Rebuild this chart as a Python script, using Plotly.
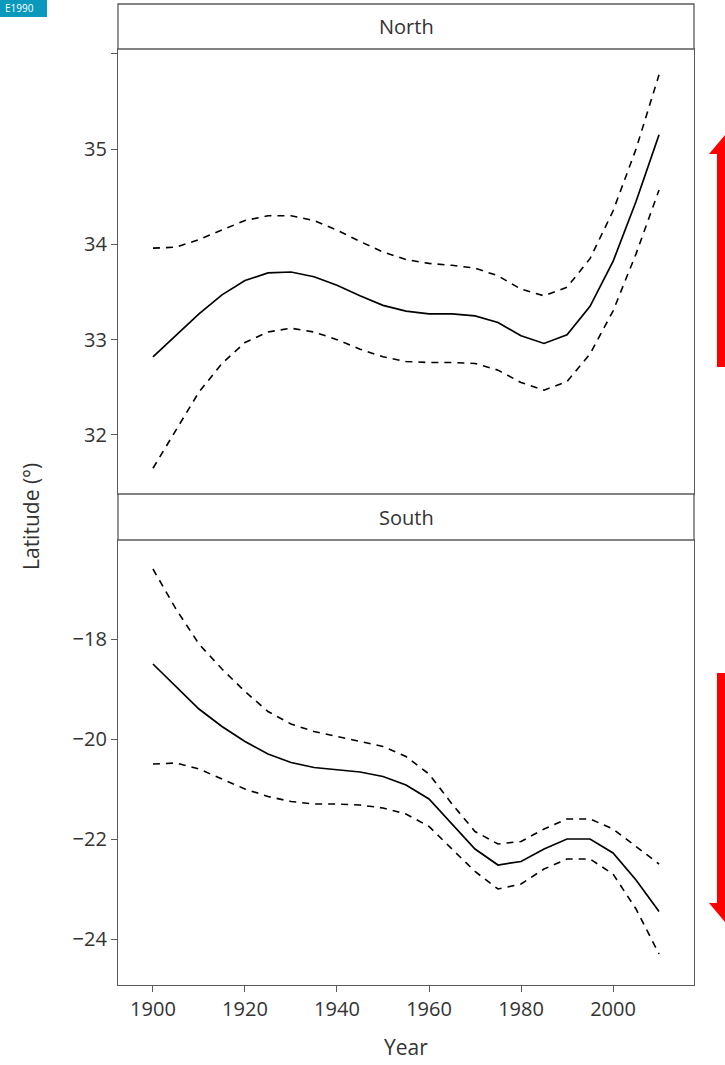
import plotly.graph_objects as go

years = [1900, 1905, 1910, 1915, 1920, 1925, 1930, 1935, 1940, 1945, 1950, 1955,
         1960, 1965, 1970, 1975, 1980, 1985, 1990, 1995, 2000, 2005, 2010]

north_fit = [32.82, 33.05, 33.27, 33.47, 33.62, 33.70, 33.71, 33.66, 33.57, 33.46, 33.36, 33.30,
             33.27, 33.27, 33.25, 33.18, 33.04, 32.96, 33.05, 33.35, 33.82, 34.45, 35.15]
north_upper = [33.96, 33.97, 34.05, 34.15, 34.25, 34.30, 34.30, 34.25, 34.15, 34.03, 33.92, 33.84,
               33.80, 33.78, 33.75, 33.67, 33.53, 33.46, 33.55, 33.85, 34.35, 35.00, 35.78]
north_lower = [31.65, 32.05, 32.45, 32.75, 32.97, 33.08, 33.12, 33.08, 33.00, 32.90, 32.82, 32.77,
               32.76, 32.76, 32.75, 32.68, 32.55, 32.47, 32.56, 32.85, 33.30, 33.90, 34.57]

south_fit = [-18.50, -18.95, -19.40, -19.75, -20.05, -20.30, -20.47, -20.57, -20.62, -20.66, -20.75, -20.92,
             -21.20, -21.70, -22.20, -22.52, -22.45, -22.20, -22.00, -22.00, -22.28, -22.82, -23.45]
south_upper = [-16.60, -17.40, -18.10, -18.60, -19.05, -19.45, -19.70, -19.85, -19.95, -20.05, -20.15, -20.35,
               -20.70, -21.30, -21.85, -22.10, -22.05, -21.80, -21.60, -21.60, -21.80, -22.15, -22.50]
south_lower = [-20.50, -20.48, -20.60, -20.80, -21.00, -21.15, -21.25, -21.30, -21.30, -21.32, -21.38, -21.50,
               -21.75, -22.20, -22.65, -23.00, -22.90, -22.60, -22.40, -22.40, -22.70, -23.40, -24.30]

x_ticks = [1900, 1920, 1940, 1960, 1980, 2000]
north_ticks = [32, 33, 34, 35, 36]
north_ticktext = ["32", "33", "34", "35", ""]
south_ticks = [-24, -22, -20, -18]
south_ticktext = ["\u221224", "\u221222", "\u221220", "\u221218"]
panel_labels = ["North", "South"]

W, H = 725, 1065
ML, MR, MT, MB = 118, 31, 4, 80
PW = W - ML - MR
PH = H - MT - MB


def py(y):
    return (H - MB - y) / PH


def px(x):
    return (x - ML) / PW


FONT = "Open Sans"
TXT = "#333333"
BORDER = "#5a5a5a"

fig = go.Figure()

line_solid = dict(color="black", width=1.7)
line_dash = dict(color="black", width=1.6, dash="7px,6px")

for vals, ln in [(north_upper, line_dash), (north_lower, line_dash), (north_fit, line_solid)]:
    fig.add_trace(go.Scatter(x=years, y=vals, mode="lines", line=ln, xaxis="x", yaxis="y",
                             showlegend=False, hoverinfo="skip"))
for vals, ln in [(south_upper, line_dash), (south_lower, line_dash), (south_fit, line_solid)]:
    fig.add_trace(go.Scatter(x=years, y=vals, mode="lines", line=ln, xaxis="x2", yaxis="y2",
                             showlegend=False, hoverinfo="skip"))

xr = [1892.4, 2017.6]
north_dom = [py(494), py(49)]
south_dom = [0, py(540)]

axis_common = dict(showgrid=False, zeroline=False, showline=True, linecolor=BORDER, linewidth=1.3,
                   mirror=True, ticks="outside", ticklen=6, tickwidth=1.3, tickcolor=BORDER,
                   tickfont=dict(family=FONT, size=20, color=TXT))

fig.update_layout(
    width=W, height=H,
    margin=dict(l=ML, r=MR, t=MT, b=MB),
    paper_bgcolor="white", plot_bgcolor="white",
    xaxis=dict(domain=[0, 1], range=xr, anchor="y", showticklabels=False, ticks="",
               showgrid=False, zeroline=False, showline=True, linecolor=BORDER, linewidth=1.3, mirror=True),
    yaxis=dict(domain=north_dom, range=[31.38, 36.05], anchor="x", tickvals=north_ticks,
               ticktext=north_ticktext, **axis_common),
    xaxis2=dict(domain=[0, 1], range=xr, anchor="y2", tickvals=x_ticks, **axis_common),
    yaxis2=dict(domain=south_dom, range=[-24.92, -16.02], anchor="x2", tickvals=south_ticks,
                ticktext=south_ticktext, **axis_common),
)

shapes = []
annotations = []
strips = [(4, 49, panel_labels[0]), (494, 540, panel_labels[1])]
for top, bot, lab in strips:
    shapes.append(dict(type="rect", xref="paper", yref="paper", x0=0, x1=1, y0=py(bot), y1=py(top),
                       line=dict(color=BORDER, width=1.3), fillcolor="white", layer="above"))
    annotations.append(dict(text=lab, xref="paper", yref="paper", x=0.5, y=(py(bot) + py(top)) / 2,
                            showarrow=False, xanchor="center", yanchor="middle",
                            font=dict(family=FONT, size=20, color=TXT)))

annotations.append(dict(text="Year", xref="paper", yref="paper", x=0.5, y=py(1047),
                        showarrow=False, xanchor="center", yanchor="middle",
                        font=dict(family=FONT, size=21, color=TXT)))
annotations.append(dict(text="Latitude (\u00b0)", xref="paper", yref="paper", x=px(31), y=py(517),
                        textangle=-90, showarrow=False, xanchor="center", yanchor="middle",
                        font=dict(family=FONT, size=21, color=TXT)))

# corner badge
shapes.append(dict(type="rect", xref="paper", yref="paper", x0=px(0), x1=px(47), y0=py(17), y1=py(0),
                   fillcolor="#0a99bd", line=dict(width=0)))
annotations.append(dict(text="E1990", xref="paper", yref="paper", x=px(3), y=py(8.5),
                        xanchor="left", yanchor="middle", showarrow=False,
                        font=dict(family=FONT, size=10, color="white")))


def arrow_path(cx, y_tail, y_tip, shaft_hw, head_hw, head_len):
    d = 1 if y_tip > y_tail else -1
    yb = y_tip - d * head_len
    pts = [(cx - shaft_hw, y_tail), (cx - shaft_hw, yb), (cx - head_hw, yb), (cx, y_tip),
           (cx + head_hw, yb), (cx + shaft_hw, yb), (cx + shaft_hw, y_tail)]
    return "M " + " L ".join(f"{px(a):.5f},{py(b):.5f}" for a, b in pts) + " Z"


for y_tail, y_tip in [(367, 135), (673, 922)]:
    shapes.append(dict(type="path", xref="paper", yref="paper",
                       path=arrow_path(725, y_tail, y_tip, 8, 16, 19),
                       fillcolor="#ff0000", line=dict(width=0)))

fig.update_layout(shapes=shapes, annotations=annotations)

fig.write_html("out.html", config={"displayModeBar": False},
               post_script="document.body.style.margin='0';document.body.style.overflow='hidden';")
